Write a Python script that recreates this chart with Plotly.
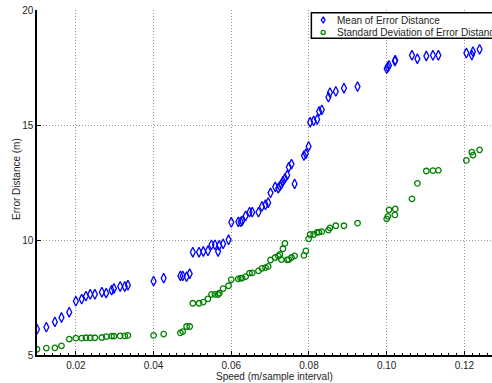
import plotly.graph_objects as go

# Speed of the target (m per sample interval)
speed = [0.0100, 0.0124, 0.0146, 0.0163, 0.0183, 0.0200, 0.0215, 0.0226, 0.0237, 0.0249,
         0.0267, 0.0278, 0.0292, 0.0298, 0.0314, 0.0326, 0.0334, 0.0400, 0.0426, 0.0469,
         0.0475, 0.0485, 0.0493, 0.0501, 0.0517, 0.0528, 0.0540, 0.0549, 0.0558, 0.0566,
         0.0569, 0.0579, 0.0593, 0.0600, 0.0618, 0.0624, 0.0628, 0.0637, 0.0647, 0.0654,
         0.0670, 0.0679, 0.0688, 0.0695, 0.0701, 0.0713, 0.0721, 0.0725, 0.0729, 0.0733,
         0.0738, 0.0744, 0.0748, 0.0755, 0.0763, 0.0787, 0.0792, 0.0799, 0.0803, 0.0812,
         0.0821, 0.0826, 0.0833, 0.0850, 0.0854, 0.0869, 0.0890, 0.0925, 0.1000, 0.1003,
         0.1006, 0.1021, 0.1022, 0.1065, 0.1079, 0.1102, 0.1119, 0.1133, 0.1205, 0.1219,
         0.1222, 0.1239]

# Mean of the error distance (m)
mean_err = [6.12, 6.21, 6.44, 6.63, 6.86, 7.34, 7.43, 7.56, 7.64, 7.64,
            7.73, 7.69, 7.82, 7.89, 7.98, 7.98, 8.03, 8.21, 8.34, 8.44,
            8.44, 8.41, 8.53, 9.47, 9.47, 9.50, 9.53, 9.79, 9.79, 9.50,
            9.76, 9.83, 10.01, 10.77, 10.79, 10.79, 10.83, 11.05, 11.21, 11.21,
            11.21, 11.46, 11.53, 11.62, 12.05, 12.31, 12.25, 12.34, 12.43, 12.56,
            12.68, 12.82, 13.17, 13.30, 12.44, 13.67, 13.75, 14.07, 15.12, 15.18,
            15.24, 15.59, 15.66, 16.21, 16.41, 16.46, 16.60, 16.67, 17.45, 17.52,
            17.59, 17.78, 17.82, 18.03, 17.88, 18.00, 18.03, 18.03, 18.13, 18.04,
            18.19, 18.29]

# Standard deviation of the error distance (m)
std_err = [5.25, 5.30, 5.31, 5.40, 5.69, 5.73, 5.73, 5.75, 5.75, 5.75,
           5.76, 5.80, 5.82, 5.82, 5.83, 5.83, 5.85, 5.85, 5.91, 5.96,
           6.02, 6.24, 6.24, 7.25, 7.25, 7.30, 7.44, 7.64, 7.64, 7.63,
           7.69, 7.89, 8.01, 8.28, 8.31, 8.34, 8.34, 8.41, 8.56, 8.57,
           8.66, 8.77, 8.80, 8.85, 9.13, 9.24, 9.30, 9.37, 9.15, 9.62,
           9.85, 9.14, 9.15, 9.24, 9.31, 9.33, 9.53, 10.05, 10.24, 10.24,
           10.33, 10.34, 10.36, 10.43, 10.53, 10.62, 10.62, 10.73, 10.92, 11.03,
           11.31, 11.09, 11.35, 11.79, 12.46, 13.00, 13.02, 13.03, 13.46, 13.82,
           13.69, 13.92]

series_names = ["Mean of Error Distance", "Standard Deviation of Error Distance"]
series_colors = ["#0000FF", "#008000"]

x_ticks = [0.02, 0.04, 0.06, 0.08, 0.10, 0.12]
x_tick_text = ["0.02", "0.04", "0.06", "0.08", "0.10", "0.12"]
y_ticks = [5, 10, 15, 20]

FONT = "Liberation Sans, Arial, Helvetica, sans-serif"
TEXT_COLOR = "#1e1e1e"

fig = go.Figure()
fig.add_trace(go.Scatter(
    x=speed, y=mean_err, mode="markers", name=series_names[0], showlegend=False,
    marker=dict(symbol="diamond-tall-open", size=7, color=series_colors[0], line=dict(width=1.3)),
))
fig.add_trace(go.Scatter(
    x=speed, y=std_err, mode="markers", name=series_names[1], showlegend=False,
    marker=dict(symbol="circle-open", size=5.5, color=series_colors[1], line=dict(width=1.3)),
))

axis_common = dict(
    showline=True, linecolor="black", linewidth=1.5, mirror=False,
    ticks="inside", ticklen=4, tickcolor="black", tickwidth=1,
    showgrid=True, gridcolor="#9a9a9a", griddash="1px,2px", gridwidth=1,
    zeroline=False, tickfont=dict(family=FONT, size=10, color=TEXT_COLOR),
)

fig.update_xaxes(
    range=[0.01, 0.1271], tickvals=x_ticks, ticktext=x_tick_text,
    minor=dict(ticks="inside", ticklen=2, dtick=0.002, tickcolor="black", showgrid=False),
    **axis_common,
)
fig.update_yaxes(range=[5, 20], tickvals=y_ticks, **axis_common)

fig.add_annotation(
    text="Speed (m/sample interval)", xref="paper", yref="paper",
    x=0.521, y=-0.061, xanchor="center", yanchor="middle", showarrow=False,
    font=dict(family=FONT, size=10, color=TEXT_COLOR),
)
fig.add_annotation(
    text="Error Distance (m)", xref="paper", yref="paper", textangle=-90,
    x=-0.03, y=0.51, xanchor="right", yanchor="middle", showarrow=False,
    font=dict(family=FONT, size=10, color=TEXT_COLOR),
)

# Legend box in the upper right corner, drawn with shapes and text
legend_x0, legend_y0, legend_y1 = 0.603, 0.918, 0.992
key_x, text_x = 0.629, 0.655
row_y = [0.971, 0.935]
fig.add_shape(
    type="rect", xref="paper", yref="paper",
    x0=legend_x0, x1=1.2, y0=legend_y0, y1=legend_y1,
    line=dict(color="black", width=1.5), fillcolor="white", layer="above",
)
fig.add_shape(
    type="path", xref="paper", yref="paper", xsizemode="pixel", ysizemode="pixel",
    xanchor=key_x, yanchor=row_y[0], path="M 0,2.8 L 1.9,0 L 0,-2.8 L -1.9,0 Z",
    line=dict(color=series_colors[0], width=1.3), layer="above",
)
fig.add_shape(
    type="circle", xref="paper", yref="paper", xsizemode="pixel", ysizemode="pixel",
    xanchor=key_x, yanchor=row_y[1], x0=-2, x1=2, y0=-2, y1=2,
    line=dict(color=series_colors[1], width=1.3), layer="above",
)
for name, y in zip(series_names, row_y):
    fig.add_annotation(
        text=name, xref="paper", yref="paper", x=text_x, y=y,
        xanchor="left", yanchor="middle", showarrow=False,
        font=dict(family=FONT, size=10, color=TEXT_COLOR),
    )

fig.update_layout(
    width=492, height=383,
    margin=dict(l=37, r=0, t=10, b=28, autoexpand=False),
    plot_bgcolor="white", paper_bgcolor="white",
    showlegend=False,
)

fig.write_html("out.html")
